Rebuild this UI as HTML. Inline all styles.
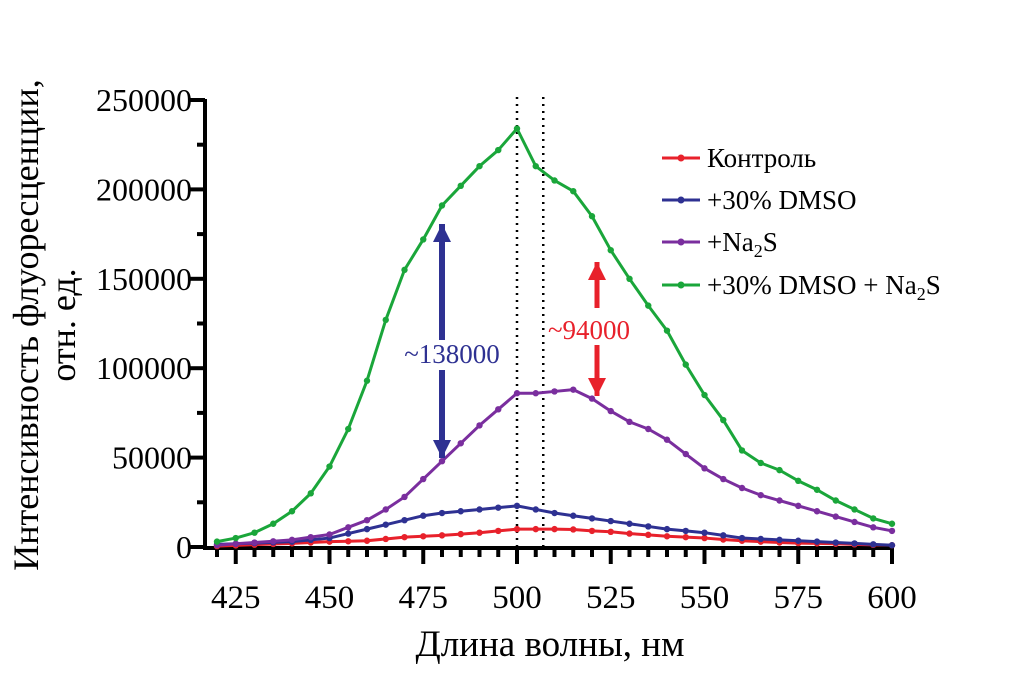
<!DOCTYPE html>
<html><head><meta charset="utf-8">
<style>body{margin:0;background:#fff}svg{display:block}svg text{font-family:"Liberation Serif","DejaVu Serif","Noto Serif CJK SC",serif}</style>
</head><body>
<svg id="chart" width="1010" height="683" viewBox="0 0 1010 683"></svg>
<script>
const wavelengths=[420,425,430,435,440,445,450,455,460,465,470,475,480,485,490,495,500,505,510,515,520,525,530,535,540,545,550,555,560,565,570,575,580,585,590,595,600];
const seriesNames=["Контроль","+30% DMSO","+Na2S","+30% DMSO + Na2S"];
const controlVals=[500,900,1300,1700,2000,2500,3000,3200,3500,4500,5500,6000,6500,7200,8000,9000,10000,10000,10000,9800,9000,8500,7500,6800,6000,5500,5000,4200,3500,3000,2500,2200,2000,1800,1500,1200,1000];
const dmsoVals=[1500,1800,2200,2600,3000,4000,5000,7500,10000,12500,15000,17500,19000,20000,21000,22000,23000,21000,19000,17500,16000,14500,13000,11500,10000,9000,8000,6500,5000,4500,4000,3500,3000,2500,2000,1500,1000];
const na2sVals=[1000,1800,2500,3200,4000,5500,7000,11000,15000,21000,28000,38000,48000,58000,68000,77000,86000,86000,87000,88000,83000,76000,70000,66000,60000,52000,44000,38000,33000,29000,26000,23000,20000,17000,14000,11000,9000];
const bothVals=[3000,5000,8000,13000,20000,30000,45000,66000,93000,127000,155000,172000,191000,202000,213000,222000,234000,213000,205000,199000,185000,166000,150000,135000,121000,102000,85000,71000,54000,47000,43000,37000,32000,26000,21000,16000,13000];
const yTicks=[0,50000,100000,150000,200000,250000];
const xTicks=[425,450,475,500,525,550,575,600];
const colors=["#e8212b","#2e3192","#7a2e9e","#1aa63a"];
const NS="http://www.w3.org/2000/svg";
const svg=document.getElementById('chart');
const X=v=>217+(v-420)*(892-217)/180;
const Y=v=>547-v*(447/250000);
function el(t,a,p){const e=document.createElementNS(NS,t);for(const k in a)e.setAttribute(k,a[k]);(p||svg).appendChild(e);return e;}
let ya=el('line',{x1:205,y1:99,x2:205,y2:548,stroke:'#000','stroke-width':4});


let xa=el('line',{x1:203,y1:548,x2:894,y2:548,stroke:'#000','stroke-width':4});


for(let v=0;v<=250000;v+=25000){const major=v%50000===0;el('line',{x1:major?190:197,y1:Y(v),x2:205,y2:Y(v),stroke:'#000','stroke-width':4});}
yTicks.forEach(v=>{const t=el('text',{x:192,y:Y(v)+11,'text-anchor':'end','font-size':32});t.textContent=v;

});
for(let v=420;v<=600;v+=5){const major=(v-425)%25===0;el('line',{x1:X(v),y1:548,x2:X(v),y2:major?564:557,stroke:'#000','stroke-width':4});}
xTicks.forEach(v=>{const t=el('text',{x:X(v),y:608,'text-anchor':'middle','font-size':33});t.textContent=v;

});
[500,507].forEach(v=>{const l=el('line',{x1:X(v),y1:97,x2:X(v),y2:548,stroke:'#000','stroke-width':2.5,'stroke-dasharray':'2 5'});

});
const all=[controlVals,dmsoVals,na2sVals,bothVals];
all.forEach((vals,i)=>{const g=el('g',{});


el('polyline',{points:vals.map((v,j)=>X(wavelengths[j])+','+Y(v)).join(' '),fill:'none',stroke:colors[i],'stroke-width':3,'stroke-linejoin':'round'},g);
vals.forEach((v,j)=>el('circle',{cx:X(wavelengths[j]),cy:Y(v),r:3.2,fill:colors[i]},g));});
function arrow(x,y1,y2,c,w){el('line',{x1:x,y1:y1,x2:x,y2:y2,stroke:c,'stroke-width':w});const d=y2>y1?1:-1;el('polygon',{points:`${x-9},${y2-d*18} ${x+9},${y2-d*18} ${x},${y2}`,fill:c});}
arrow(442,340,224,'#2e3192',6);arrow(442,370,458,'#2e3192',6);
arrow(597,308,262,'#e8212b',5);arrow(597,345,396,'#e8212b',5);
let a1=el('text',{x:452,y:363,'text-anchor':'middle','font-size':27,fill:'#2e3192'});a1.textContent='~138000';


let a2=el('text',{x:589,y:339,'text-anchor':'middle','font-size':27,fill:'#e8212b'});a2.textContent='~94000';


const ly=[158,200,242,285];
const labels=['Контроль','+30% DMSO','+Na<tspan font-size="18" dy="6">2</tspan><tspan dy="-6">S</tspan>','+30% DMSO + Na<tspan font-size="18" dy="6">2</tspan><tspan dy="-6">S</tspan>'];
labels.forEach((lab,i)=>{const g=el('g',{});


el('line',{x1:662,y1:ly[i],x2:700,y2:ly[i],stroke:colors[i],'stroke-width':3},g);
el('circle',{cx:681,cy:ly[i],r:3.5,fill:colors[i]},g);
const t=el('text',{x:707,y:ly[i]+9,'font-size':27},g);t.innerHTML=lab;});
let xt=el('text',{x:550,y:656,'text-anchor':'middle','font-size':37});xt.textContent='Длина волны, нм';


let yt=el('text',{transform:'translate(38,325) rotate(-90)','text-anchor':'middle','font-size':36});


yt.innerHTML='<tspan x="0" dy="0">Интенсивность флуоресценции,</tspan><tspan x="0" dy="37">отн. ед.</tspan>';
</script>
</body></html>
